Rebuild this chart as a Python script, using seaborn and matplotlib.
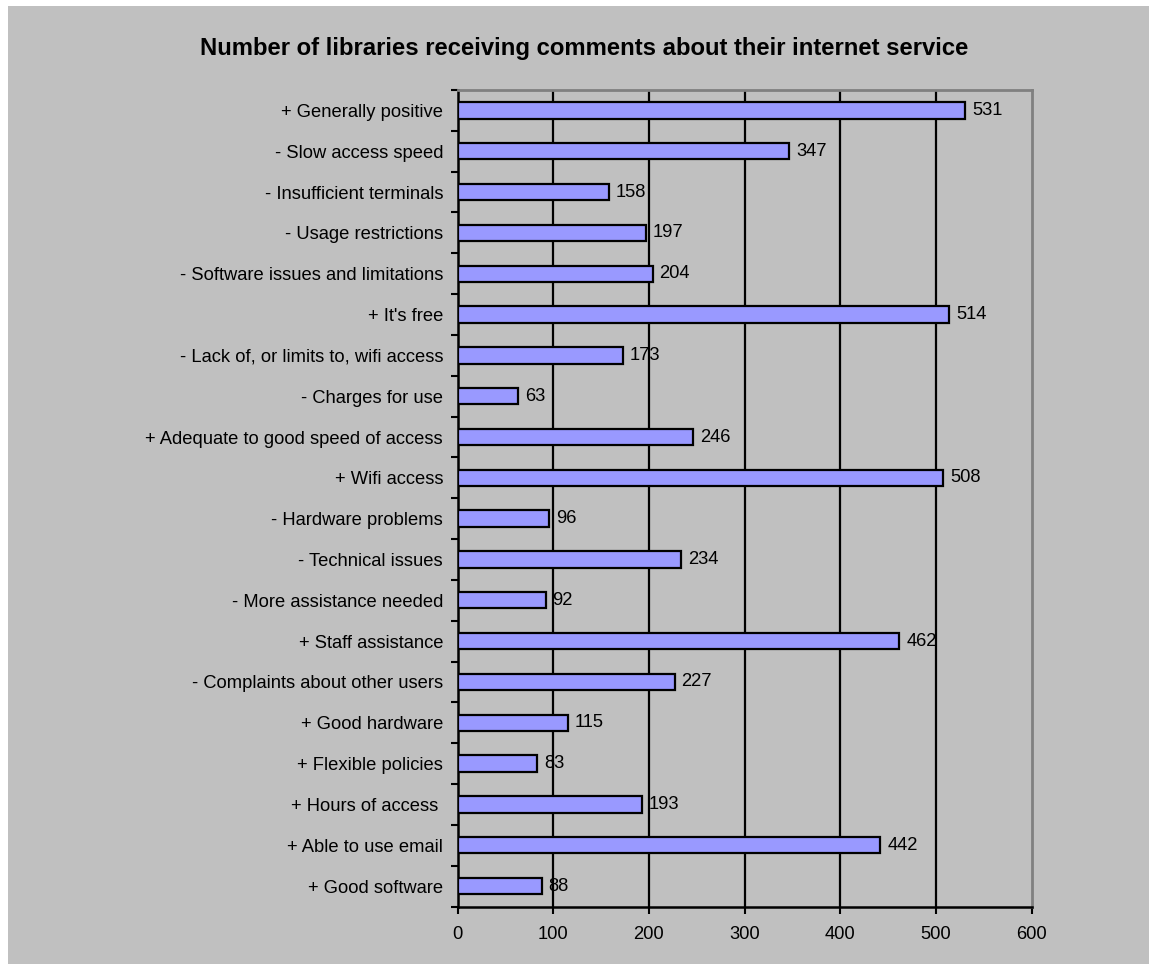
import pandas as pd
import matplotlib
matplotlib.use("Agg")
import matplotlib.pyplot as plt
import seaborn as sns
from matplotlib.patches import Rectangle

# Données du graphique
categories = [
    "+ Generally positive",
    "- Slow access speed",
    "- Insufficient terminals",
    "- Usage restrictions",
    "- Software issues and limitations",
    "+ It's free",
    "- Lack of, or limits to, wifi access",
    "- Charges for use",
    "+ Adequate to good speed of access",
    "+ Wifi access",
    "- Hardware problems",
    "- Technical issues",
    "- More assistance needed",
    "+ Staff assistance",
    "- Complaints about other users",
    "+ Good hardware",
    "+ Flexible policies",
    "+ Hours of access ",
    "+ Able to use email",
    "+ Good software",
]
counts = [531, 347, 158, 197, 204, 514, 173, 63, 246, 508,
          96, 234, 92, 462, 227, 115, 83, 193, 442, 88]
x_ticks = [0, 100, 200, 300, 400, 500, 600]

GRAY = "#C0C0C0"
FS = 13.2

sns.set_style("white")
plt.rcParams['font.family'] = ['Liberation Sans', 'DejaVu Sans']
plt.rcParams['text.color'] = 'black'
plt.rcParams['xtick.color'] = 'black'
plt.rcParams['ytick.color'] = 'black'

df = pd.DataFrame({"category": categories, "count": counts})

fig = plt.figure(figsize=(11.49, 9.64), dpi=100)
fig.patch.set_facecolor("white")
# fond gris du graphique (bordure blanche en haut et à gauche)
fig.patches.append(Rectangle((8 / 1149, 0), 1, 1 - 6 / 964,
                             transform=fig.transFigure, facecolor=GRAY,
                             edgecolor="none", zorder=-10))

ax = fig.add_axes([457.5 / 1149, 1 - 906.5 / 964,
                   (1031.5 - 457.5) / 1149, (906.5 - 90) / 964])
ax.set_facecolor(GRAY)

sns.barplot(data=df, x="count", y="category", orient="h", color="#9999FF",
            edgecolor="black", linewidth=1.6, width=0.4, saturation=1,
            ax=ax, zorder=3)

ax.bar_label(ax.containers[0], padding=5, fontsize=FS, color="black", zorder=4)

ax.set_xlim(0, 600)
ax.set_ylim(len(categories) - 0.5, -0.5)
ax.set_xticks(x_ticks)
ax.set_xticklabels([str(v) for v in x_ticks], fontsize=FS)
ax.set_yticks(range(len(categories)))
ax.set_yticklabels(categories, fontsize=FS)
ax.set_yticks([i - 0.5 for i in range(len(categories) + 1)], minor=True)
ax.tick_params(axis="y", which="major", length=0, pad=10.4, labelcolor="black")
ax.tick_params(axis="y", which="minor", length=5, width=1.5, color="black",
               direction="out", left=True)
ax.tick_params(axis="x", which="major", length=5, width=1.5, color="black",
               direction="out", bottom=True, pad=9, labelcolor="black")
ax.set_xlabel("")
ax.set_ylabel("")

# grille verticale
for v in x_ticks[1:-1]:
    ax.axvline(v, color="black", linewidth=1.6, zorder=1)

for side in ["left", "bottom"]:
    ax.spines[side].set_color("black")
    ax.spines[side].set_linewidth(1.8)
for side in ["top", "right"]:
    ax.spines[side].set_visible(True)
    ax.spines[side].set_color("#808080")
    ax.spines[side].set_linewidth(2)

fig.text(584 / 1149, 1 - 48 / 964,
         "Number of libraries receiving comments about their internet service",
         ha="center", va="center", fontsize=17.2, fontweight="bold", color="black")

fig.savefig("out.png", dpi=100, facecolor=fig.get_facecolor())
